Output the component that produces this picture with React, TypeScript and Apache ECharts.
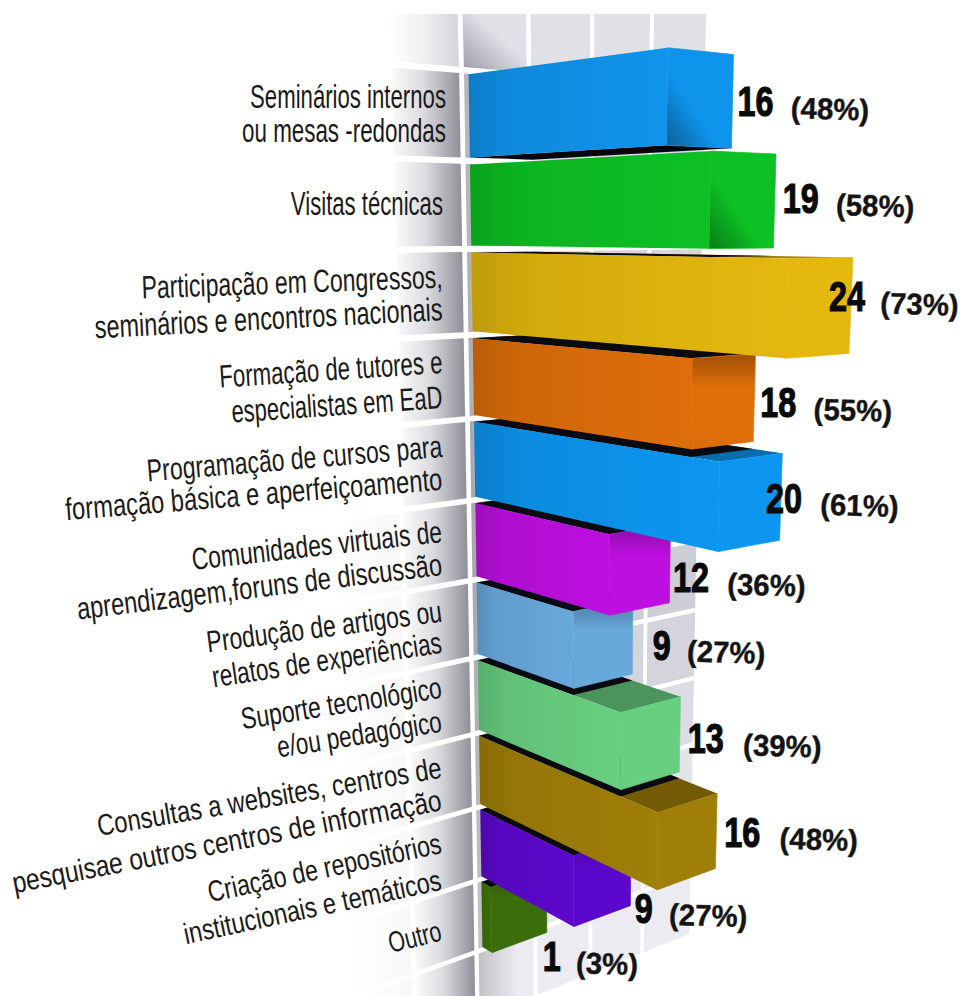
import React, { useEffect, useRef } from "react";
import * as echarts from "echarts";

// Survey answers, top row first.
const categories = [
  "Seminários internos\nou mesas -redondas",
  "Visitas técnicas",
  "Participação em Congressos,\nseminários e encontros nacionais",
  "Formação de tutores e\nespecialistas em EaD",
  "Programação de cursos para\nformação básica e aperfeiçoamento",
  "Comunidades virtuais de\naprendizagem,foruns de discussão",
  "Produção de artigos ou\nrelatos de experiências",
  "Suporte tecnológico\ne/ou pedagógico",
  "Consultas a websites, centros de\npesquisae outros centros de informação",
  "Criação de repositórios\ninstitucionais e temáticos",
  "Outro",
];
const counts = [16, 19, 24, 18, 20, 12, 9, 13, 16, 9, 1];
const percents = [48, 58, 73, 55, 61, 36, 27, 39, 48, 27, 3];
const barColors = [
  "#0f94ec", "#0dc024", "#e4b80e", "#de6e0a", "#0c96f0", "#bd0fe0",
  "#68a9dc", "#68cf80", "#a07f08", "#5c08cc", "#3b6e0a",
];

// Per text line of the category labels: right end x, baseline y, tilt in degrees, drawn width.
const labelLines = [
  [[446, 108, 0, 196], [446, 142, 0, 204]],
  [[443, 215, 0, 152]],
  [[443, 288, 2.1, 301], [443, 320, 3, 348]],
  [[443, 373, 3.8, 223], [443, 408, 4, 211]],
  [[443, 457, 4.8, 295], [443, 490, 4.6, 377]],
  [[443, 542, 6.4, 250], [443, 575, 7, 365]],
  [[443, 622, 7.5, 235], [443, 653, 8.7, 229]],
  [[443, 698, 9, 200], [443, 732, 9, 164]],
  [[443, 778, 9.7, 344], [443, 810, 11, 429]],
  [[443, 853, 12, 233], [443, 890, 12, 257]],
  [[443, 940, 14, 52]],
];
// Value label placement from the bar's outer end: dx, baseline dy, gap to the percentage.
const valueOffsets = [
  [5, 15, 53], [8, 12, 53], [-22, 6, 51], [6, 20, 53], [-15, 16, 54], [3, 29, 54],
  [20, 23, 34], [8, 19, 55], [8, 16, 55], [4, 52, 34], [-4, 71, 33],
];
// Wall shading from top to bottom, one tone per tile row.
const wallTones = [
  "#e0e0e7", "#dcdce4", "#dadae2", "#d6d6de", "#d2d2da", "#cdcdd5", "#cacad2",
  "#cdcdd5", "#d4d4dc", "#dcdce4", "#e3e3ea", "#e8e8ef", "#ebebf1",
];

// Vanishing points of the scene and the point where the wall meets the horizon.
const ORIGIN = [471, 230];
const VP_DEPTH = [-700, 230];
const VP_DOWN = [579, 7000];
const VP_WALL = [2450, 230];
const DEPTH_K = 0.00089;
const DOWN_K = 1 / 6770;
const FLAT_W = 330;
const FLAT_H = 961;
const FLAT_Y0 = 155.7;
const BAR_HALF = 0.46;
const BAR_WIDE = 0.032;
const TILE_S0 = -0.0034;
const TILE_S = 0.0342;

// Homogeneous three-point perspective: X out of the wall, Y down it, s along it.
function project(X: number, Y: number, s: number): number[] {
  const t = -DEPTH_K * X;
  const b = DOWN_K * Y;
  const w = 1 + t + b + s;
  return [
    (ORIGIN[0] + t * VP_DEPTH[0] + b * VP_DOWN[0] + s * VP_WALL[0]) / w,
    (ORIGIN[1] + t * VP_DEPTH[1] + b * VP_DOWN[1] + s * VP_WALL[1]) / w,
  ];
}

function shade(hex: string, f: number): string {
  const n = parseInt(hex.slice(1), 16);
  const c = [(n >> 16) & 255, (n >> 8) & 255, n & 255].map((v) => Math.round(v * f));
  return `rgb(${c[0]},${c[1]},${c[2]})`;
}

function gradient(x: number, y: number, x2: number, y2: number, stops: [number, string][]) {
  return new echarts.graphic.LinearGradient(
    x, y, x2, y2, stops.map(([offset, color]) => ({ offset, color }))
  );
}

const quad = (points: number[][], fill: any, seam?: string) => ({
  type: "polygon",
  shape: { points },
  style: seam ? { fill, stroke: seam, lineWidth: 0.7 } : { fill },
  silent: true,
});

const measure = document.createElement("canvas").getContext("2d")!;
function textWidth(text: string, font: string): number {
  measure.font = font;
  return measure.measureText(text).width;
}

function renderTile(params: any, api: any) {
  const col = api.value(2);
  const row = api.value(3);
  const band = api.size([0, 1])[1];
  const top = api.coord([0, 0])[1] - band / 2 - FLAT_Y0 + row * band + 3;
  const bot = top + band - 6;
  const s0 = TILE_S0 + col * TILE_S + 0.0012;
  const s1 = s0 + TILE_S - 0.0024;
  const pts = [project(0, top, s0), project(0, top, s1), project(0, bot, s1), project(0, bot, s0)]
    .map(([x, y]) => [x, Math.max(y, 14)]);
  const tone = wallTones[row + 1];
  let fill: any = tone;
  if (col === -1) {
    fill = row < 0
      ? gradient(0, 0, 1, 0, [[0, "#ffffff"], [0.5, "#f0f0f2"], [1, "#d4d4da"]])
      : gradient(0, 0, 1, 0, [[0, "#fafafa"], [0.45, "#dcdce0"], [1, "#8f8f98"]]);
  }
  if (col === -2) fill = gradient(0, 0, 1, 0, [[0, "#ffffff"], [1, "#f8f8f9"]]);
  if (col === 0) {
    fill = row < 0
      ? gradient(0, 1, 0.7, 0.3, [[0, "#9a9aa6"], [0.85, tone]])
      : gradient(0, 0, 1, 0, [[0, shade(tone, 0.82)], [0.7, tone]]);
  }
  return quad(pts, fill);
}

function renderBar(params: any, api: any) {
  const value = api.value(0);
  const index = api.value(1);
  const [xEnd, flatY] = api.coord([value, index]);
  const band = api.size([0, 1])[1];
  const Y = flatY - FLAT_Y0;
  const yTop = Y - band * BAR_HALF;
  const yBot = Y + band * BAR_HALF;
  const color = barColors[index];
  const rootTop = project(0, yTop, 0);
  const rootBot = project(0, yBot, 0);
  const nearTop = project(xEnd, yTop, 0);
  const nearBot = project(xEnd, yBot, 0);
  const farTop = project(xEnd, yTop, BAR_WIDE);
  const farBot = project(xEnd, yBot, BAR_WIDE);
  const above = index > 0 ? counts[index - 1] : 0;
  const children: any[] = [];

  if (yTop > 0) {
    children.push(quad([rootTop, nearTop, farTop, project(0, yTop, BAR_WIDE)], shade(color, 0.72)));
    const xShadow = api.coord([Math.min(above, value), index])[0];
    children.push(quad(
      [rootTop, project(xShadow, yTop, 0), project(xShadow, yTop, BAR_WIDE), project(0, yTop, BAR_WIDE)],
      "#0a0a12"
    ));
  }
  if (yBot < 0) {
    children.push(quad([rootBot, nearBot, farBot, project(0, yBot, BAR_WIDE)], "#05070c"));
  }
  children.push(quad([rootTop, nearTop, nearBot, rootBot], gradient(0, 0, 1, 0, [
    [0, shade(color, 0.84)], [0.2, shade(color, 0.93)], [1, color],
  ])));

  // The end cap darkens where a neighbouring bar throws shade on it.
  let cap: any = color;
  if (yBot < 30) cap = gradient(0.8, 0.3, 0.1, 1, [[0.5, color], [1, shade(color, 0.68)]]);
  else if (above > value) cap = gradient(0, 0, 0, 1, [[0, shade(color, 0.72)], [0.35, color]]);
  children.push(quad([nearTop, farTop, farBot, nearBot], cap, color));
  return { type: "group", children };
}

const NUM_FONT = "bold 42px 'Liberation Sans'";
const PCT_FONT = "bold 30px 'Liberation Sans'";

function renderValue(params: any, api: any) {
  const value = api.value(0);
  const index = api.value(1);
  const percent = api.value(2);
  const [xEnd, flatY] = api.coord([value, index]);
  const [ex, ey] = project(xEnd, flatY - FLAT_Y0, BAR_WIDE);
  const [dx, dy, gap] = valueOffsets[index];
  const x = ex + dx;
  const y = ey + dy;
  return {
    type: "group",
    children: [
      {
        type: "text", x, y, scaleX: 0.77, silent: true,
        style: {
          text: String(value), font: NUM_FONT, fill: "#0a0a0a", stroke: "#0a0a0a", lineWidth: 1.2,
          align: "left", verticalAlign: "middle", y: -15,
        },
      },
      {
        type: "text", x: x + gap, y: y + 2, scaleX: 0.98, rotation: -0.03, silent: true,
        style: {
          text: `(${percent}%)`, font: PCT_FONT, fill: "#141414", stroke: "#141414", lineWidth: 0.4,
          align: "left", verticalAlign: "middle", y: -11,
        },
      },
    ],
  };
}

function renderCategory(params: any, api: any) {
  const row = api.value(1);
  const size = 33 - 0.4 * row;
  const font = `${size}px 'Liberation Sans'`;
  const children = categories[row].split("\n").map((line, i) => {
    const [x, y, tilt, width] = labelLines[row][i];
    const angle = (tilt * Math.PI) / 180;
    return {
      type: "text", x, y, silent: true,
      rotation: angle,
      scaleX: width / Math.cos(angle) / textWidth(line, font),
      style: {
        text: line, font, fill: "#1a1a1a",
        align: "right", verticalAlign: "middle", y: -size * 0.35,
      },
    };
  });
  return { type: "group", children };
}

export default function App() {
  const ref = useRef<HTMLDivElement>(null);
  useEffect(() => {
    const chart = echarts.init(ref.current!, undefined, { renderer: "svg" });
    const tiles: number[][] = [];
    for (let row = -1; row <= 11; row++) {
      for (let col = row >= 5 ? -2 : -1; col <= 3; col++) tiles.push([0, 0, col, row]);
    }
    const rows = counts.map((c, i) => [c, i, percents[i]]);
    chart.setOption({
      animation: false,
      backgroundColor: "#ffffff",
      grid: { left: 0, top: 0, width: FLAT_W, height: FLAT_H },
      xAxis: { type: "value", min: 0, max: 33, show: false },
      yAxis: { type: "category", inverse: true, data: categories, show: false },
      series: [
        { type: "custom", z: 1, silent: true, renderItem: renderTile, data: tiles, encode: { x: 0, y: 1 } },
        { type: "custom", z: 2, silent: true, renderItem: renderCategory, data: rows, encode: { x: 0, y: 1 } },
        { type: "custom", z: 3, silent: true, renderItem: renderBar, data: [...rows].reverse(), encode: { x: 0, y: 1 } },
        { type: "custom", z: 5, silent: true, renderItem: renderValue, data: rows, encode: { x: 0, y: 1 } },
      ],
    });
    return () => chart.dispose();
  }, []);
  return <div ref={ref} style={{ position: "fixed", left: 0, top: 0, width: 968, height: 996 }} />;
}
